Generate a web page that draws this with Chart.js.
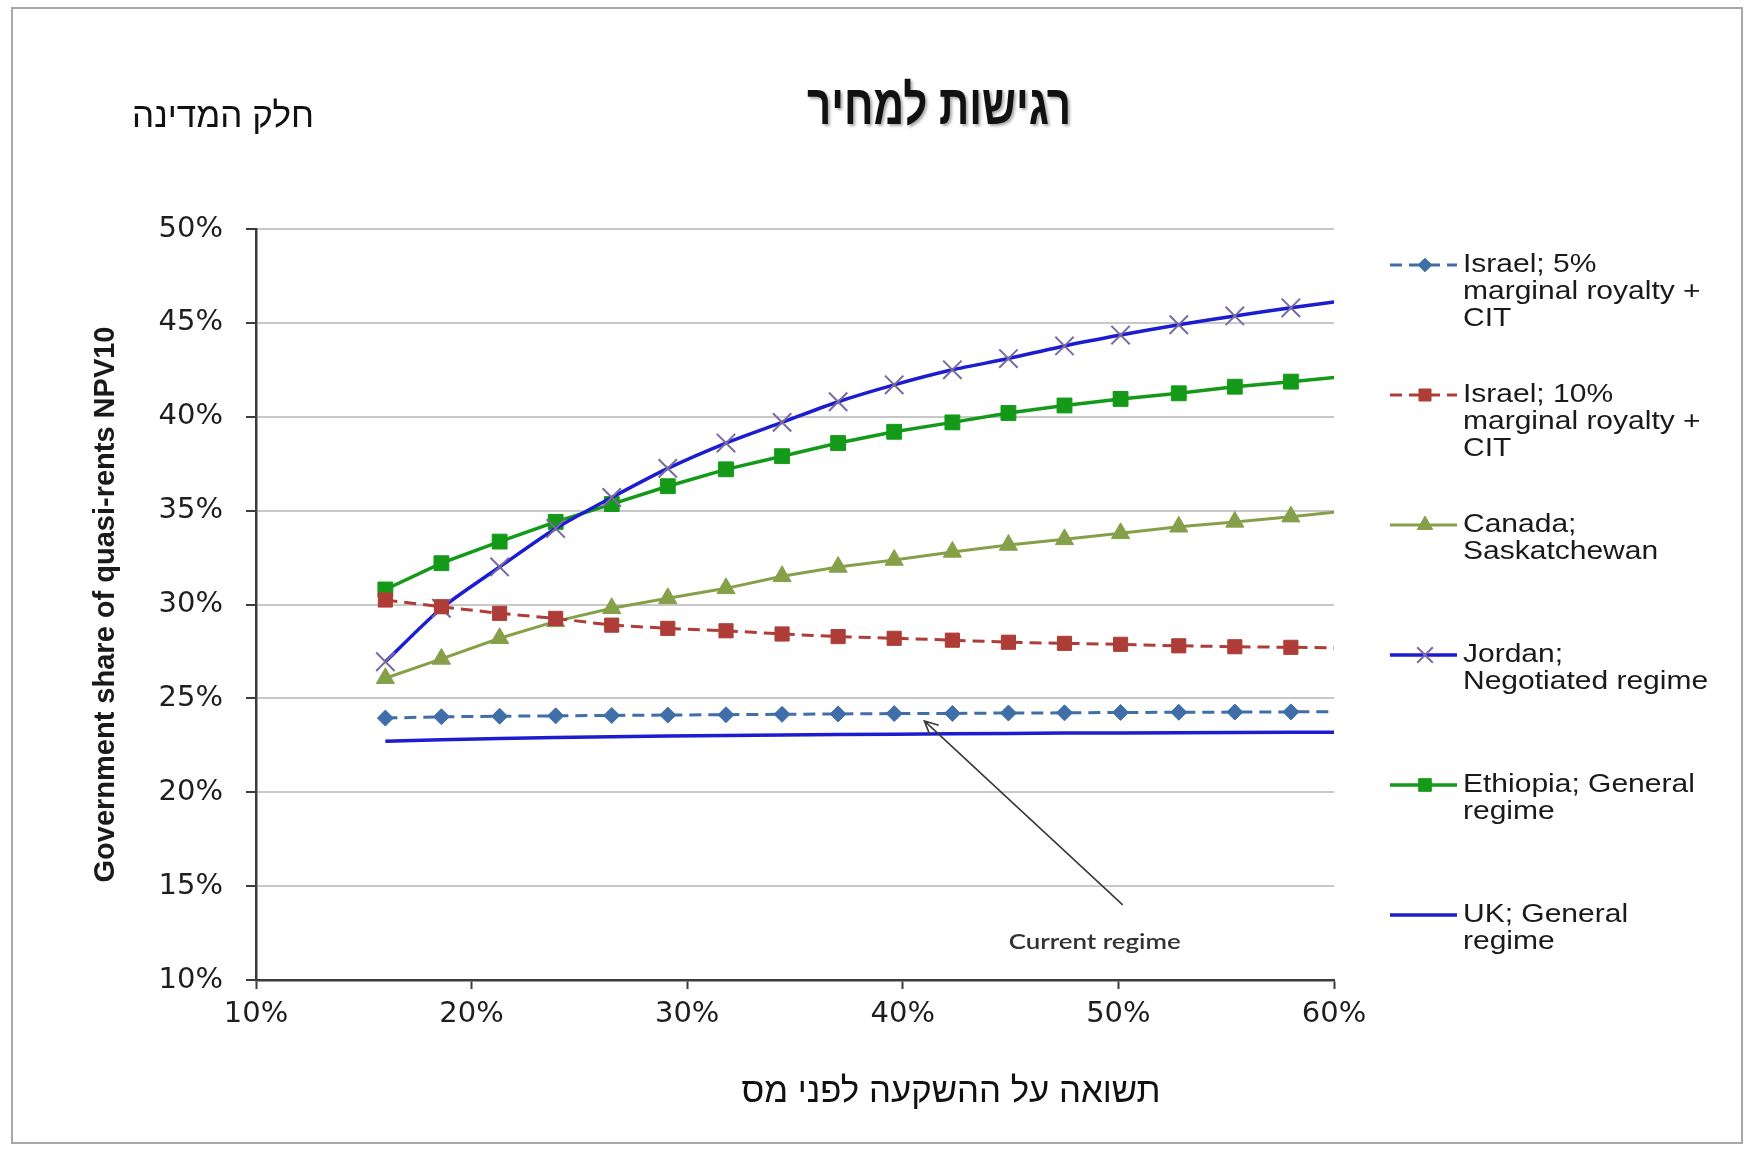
<!DOCTYPE html>
<html>
<head>
<meta charset="utf-8">
<title>רגישות למחיר</title>
<script src="https://cdn.jsdelivr.net/npm/chart.js@4.4.1/dist/chart.umd.min.js"></script>
<style>
  html, body { margin: 0; padding: 0; background: #fff; }
  #frame { position: absolute; left: 11px; top: 7px; width: 1732px; height: 1137px; border: 2px solid #a8a8a8; box-sizing: border-box; }
  #wrap { position: absolute; left: 0; top: 0; width: 1750px; height: 1149px; }
</style>
</head>
<body>
<div id="frame"></div>
<div id="wrap"><canvas id="chart"></canvas></div>
<script>
// pre-tax return on investment (%), one value per marker
const returnRates = [16.0, 18.6, 21.3, 23.9, 26.5, 29.1, 31.8, 34.4, 37.0, 39.6, 42.3, 44.9, 47.5, 50.1, 52.8, 55.4, 58.0, 60.6];

// government share of quasi-rents NPV10 (%)
const israel5  = [23.95, 24.02, 24.05, 24.07, 24.09, 24.11, 24.13, 24.15, 24.17, 24.19, 24.2, 24.22, 24.23, 24.25, 24.26, 24.27, 24.28, 24.3];
const israel10 = [30.24, 29.88, 29.53, 29.26, 28.9, 28.73, 28.6, 28.43, 28.29, 28.2, 28.1, 27.99, 27.93, 27.88, 27.8, 27.75, 27.72, 27.68];
const canada   = [26.07, 27.1, 28.2, 29.1, 29.8, 30.33, 30.86, 31.5, 32.0, 32.37, 32.8, 33.17, 33.47, 33.79, 34.14, 34.4, 34.68, 34.98];
const jordan   = [26.95, 29.8, 32.0, 34.05, 35.7, 37.25, 38.6, 39.7, 40.8, 41.7, 42.5, 43.1, 43.77, 44.35, 44.9, 45.37, 45.8, 46.2];
const ethiopia = [30.8, 32.2, 33.35, 34.4, 35.35, 36.3, 37.2, 37.9, 38.6, 39.2, 39.7, 40.2, 40.6, 40.95, 41.25, 41.6, 41.87, 42.15];
const uk       = [22.72, 22.8, 22.86, 22.91, 22.95, 22.99, 23.02, 23.05, 23.07, 23.09, 23.11, 23.13, 23.15, 23.16, 23.17, 23.18, 23.19, 23.2];

const seriesNames = [
  'Israel; 5% marginal royalty + CIT',
  'Israel; 10% marginal royalty + CIT',
  'Canada; Saskatchewan',
  'Jordan; Negotiated regime',
  'Ethiopia; General regime',
  'UK; General regime'
];
const legendLines = [
  ['Israel; 5%', 'marginal royalty +', 'CIT'],
  ['Israel; 10%', 'marginal royalty +', 'CIT'],
  ['Canada;', 'Saskatchewan'],
  ['Jordan;', 'Negotiated regime'],
  ['Ethiopia; General', 'regime'],
  ['UK; General', 'regime']
];

const chartTitle = 'רגישות למחיר';
const stateShareLabel = 'חלק המדינה';
const xAxisLabel = 'תשואה על ההשקעה לפני מס';
const yAxisLabel = 'Government share of quasi-rents NPV10';

// "Current regime" callout, in axis units
const calloutText = 'Current regime';
const arrowFrom = { x: 50.2, y: 14.0 };
const arrowTo = { x: 41.0, y: 23.8 };
const calloutAt = { x: 48.9, y: 12.0 };

const toPoints = vals => returnRates.map((x, i) => ({ x: x, y: vals[i] }));

const pct = v => v + '%';

const sheetText = {
  id: 'sheetText',
  afterDraw(chart) {
    const ctx = chart.ctx;
    const area = chart.chartArea;
    const xs = chart.scales.x, ys = chart.scales.y;

    function fitted(text, cx, baseY, font, width, color, shadow) {
      ctx.save();
      ctx.font = font;
      ctx.direction = 'rtl';
      const w = ctx.measureText(text).width;
      ctx.translate(cx, baseY);
      ctx.scale(width / w, 1);
      ctx.textAlign = 'center';
      ctx.textBaseline = 'alphabetic';
      if (shadow) {
        ctx.shadowColor = 'rgba(0,0,0,0.35)';
        ctx.shadowOffsetX = 2;
        ctx.shadowOffsetY = 2;
        ctx.shadowBlur = 3;
      }
      ctx.fillStyle = color;
      ctx.fillText(text, 0, 0);
      ctx.restore();
    }

    // hebrew texts
    fitted(chartTitle, 939, 124, 'bold 56px "Liberation Sans", "DejaVu Sans", sans-serif', 264, '#111', true);
    fitted(stateShareLabel, 223, 127, '35px "Liberation Sans", "DejaVu Sans", sans-serif', 182, '#111', false);
    fitted(xAxisLabel, 951, 1102, '35px "Liberation Sans", "DejaVu Sans", sans-serif', 419, '#111', false);

    // legend
    const legendTop = 265, legendStep = 130, lineH = 27;
    const sx0 = area.right + 56, sx1 = area.right + 123, mx = area.right + 91, tx = area.right + 129;
    chart.data.datasets.forEach((ds, i) => {
      const y0 = legendTop + i * legendStep;
      ctx.save();
      ctx.strokeStyle = ds.borderColor;
      ctx.lineWidth = ds.borderWidth;
      ctx.setLineDash(ds.borderDash || []);
      ctx.beginPath();
      ctx.moveTo(sx0, y0);
      ctx.lineTo(sx1, y0);
      ctx.stroke();
      ctx.setLineDash([]);
      if (ds.pointRadius > 0) {
        ctx.fillStyle = ds.pointBackgroundColor;
        ctx.strokeStyle = ds.pointBorderColor;
        ctx.lineWidth = ds.pointBorderWidth;
        Chart.helpers.drawPoint(ctx, { pointStyle: ds.pointStyle, rotation: 0, radius: ds.pointRadius * 0.85, borderWidth: ds.pointBorderWidth }, mx, y0);
      }
      ctx.fillStyle = '#1a1a1a';
      ctx.font = '25px "Liberation Sans", Arial, sans-serif';
      ctx.textAlign = 'left';
      ctx.textBaseline = 'middle';
      legendLines[i].forEach((t, k) => {
        ctx.save();
        ctx.translate(tx, y0 + k * lineH);
        ctx.scale(1.2, 1);
        ctx.fillText(t, 0, 0);
        ctx.restore();
      });
      ctx.restore();
    });

    // callout arrow
    const ax0 = xs.getPixelForValue(arrowFrom.x), ay0 = ys.getPixelForValue(arrowFrom.y);
    const ax1 = xs.getPixelForValue(arrowTo.x), ay1 = ys.getPixelForValue(arrowTo.y);
    const ang = Math.atan2(ay1 - ay0, ax1 - ax0);
    ctx.save();
    ctx.strokeStyle = '#3a3a3a';
    ctx.lineWidth = 1.6;
    ctx.beginPath();
    ctx.moveTo(ax0, ay0);
    ctx.lineTo(ax1, ay1);
    ctx.moveTo(ax1 - 15 * Math.cos(ang - 0.45), ay1 - 15 * Math.sin(ang - 0.45));
    ctx.lineTo(ax1, ay1);
    ctx.lineTo(ax1 - 15 * Math.cos(ang + 0.45), ay1 - 15 * Math.sin(ang + 0.45));
    ctx.stroke();
    ctx.font = '600 21px Lato, "Open Sans", sans-serif';
    const cw = ctx.measureText(calloutText).width;
    ctx.translate(xs.getPixelForValue(calloutAt.x), ys.getPixelForValue(calloutAt.y));
    ctx.scale(172 / cw, 1);
    ctx.fillStyle = '#333';
    ctx.textAlign = 'center';
    ctx.textBaseline = 'middle';
    ctx.fillText(calloutText, 0, 0);
    ctx.restore();
  }
};

new Chart(document.getElementById('chart'), {
  type: 'line',
  data: {
    datasets: [
      {
        label: seriesNames[0], data: toPoints(israel5),
        borderColor: '#3f6ea8', borderWidth: 3, borderDash: [12, 7],
        pointStyle: 'rectRot', pointRadius: 8, pointBackgroundColor: '#3f6ea8', pointBorderColor: '#3f6ea8', pointBorderWidth: 1
      },
      {
        label: seriesNames[1], data: toPoints(israel10),
        borderColor: '#ae3d38', borderWidth: 3, borderDash: [12, 7],
        pointStyle: 'rect', pointRadius: 10, pointBackgroundColor: '#ae3d38', pointBorderColor: '#ae3d38', pointBorderWidth: 1
      },
      {
        label: seriesNames[2], data: toPoints(canada),
        borderColor: '#86a04a', borderWidth: 3,
        pointStyle: 'triangle', pointRadius: 10.5, pointBackgroundColor: '#86a04a', pointBorderColor: '#86a04a', pointBorderWidth: 1
      },
      {
        label: seriesNames[3], data: toPoints(jordan),
        borderColor: '#1c1cd0', borderWidth: 3.5, tension: 0.25,
        pointStyle: 'crossRot', pointRadius: 13, pointBackgroundColor: '#7a6aa0', pointBorderColor: '#7a6aa0', pointBorderWidth: 2
      },
      {
        label: seriesNames[4], data: toPoints(ethiopia),
        borderColor: '#149a18', borderWidth: 3.5,
        pointStyle: 'rect', pointRadius: 10.5, pointBackgroundColor: '#149a18', pointBorderColor: '#149a18', pointBorderWidth: 1
      },
      {
        label: seriesNames[5], data: toPoints(uk),
        borderColor: '#1c1cd0', borderWidth: 3.5,
        pointStyle: false, pointRadius: 0
      }
    ]
  },
  options: {
    responsive: true,
    maintainAspectRatio: false,
    animation: false,
    events: [],
    layout: { padding: { left: 85, right: 416, top: 229, bottom: 109 } },
    plugins: {
      legend: { display: false },
      tooltip: { enabled: false },
      title: { display: false }
    },
    scales: {
      x: {
        type: 'linear', min: 10, max: 60,
        afterFit: s => { s.height = 60; },
        ticks: { stepSize: 10, callback: pct, color: '#1e1e1e', padding: 8, font: { family: 'DejaVu Sans', size: 29 } },
        grid: { drawOnChartArea: false, drawTicks: true, tickLength: 9, tickColor: '#3c3c3c', tickWidth: 2 },
        border: { color: '#3c3c3c', width: 2.5 }
      },
      y: {
        type: 'linear', min: 10, max: 50,
        afterFit: s => { s.width = 171; },
        ticks: { stepSize: 5, callback: pct, color: '#1e1e1e', padding: 23, font: { family: 'DejaVu Sans', size: 29 } },
        grid: { color: '#c8c8c8', lineWidth: 2, tickLength: 10, tickColor: '#3c3c3c', tickWidth: 2 },
        border: { color: '#3c3c3c', width: 2.5 },
        title: { display: true, text: yAxisLabel, color: '#1a1a1a', padding: { top: 4 }, font: { family: 'Liberation Sans', size: 29, weight: 'bold' } }
      }
    }
  },
  plugins: [sheetText]
});
</script>
</body>
</html>
